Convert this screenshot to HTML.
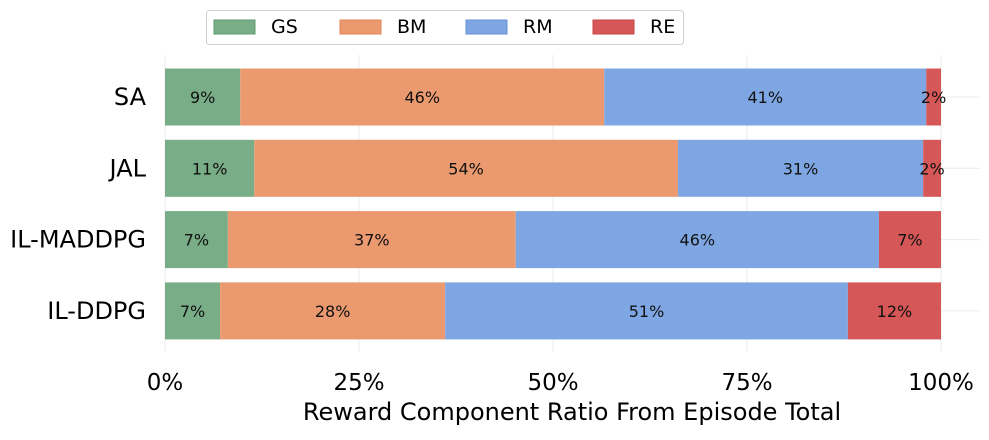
<!DOCTYPE html>
<html><head><meta charset="utf-8"><style>
body{margin:0;background:#fff;font-family:"Liberation Sans","DejaVu Sans",sans-serif;}
svg text{font-family:"DejaVu Sans","Liberation Sans",sans-serif;}
</style></head><body>
<svg id="chart" width="989" height="435" xmlns="http://www.w3.org/2000/svg"></svg>
<script>
const categories = ["SA","JAL","IL-MADDPG","IL-DDPG"];
const seriesNames = ["GS","BM","RM","RE"];
const gsValues = [9.7, 11.5, 8.1, 7.1];
const bmValues = [46.9, 54.6, 37.1, 29.0];
const rmValues = [41.5, 31.6, 46.8, 51.9];
const reValues = [1.9, 2.3, 8.0, 12.0];
const gsLabels = ["9%","11%","7%","7%"];
const bmLabels = ["46%","54%","37%","28%"];
const rmLabels = ["41%","31%","46%","51%"];
const reLabels = ["2%","2%","7%","12%"];
const tickValues = [0,25,50,75,100];
const tickLabels = ["0%","25%","50%","75%","100%"];

const colors = ["#78ad87","#ea9a6e","#7ea6e3","#d55757"];
const strokes = ["#5f9a70","#e08656","#6690d8","#c84444"];
const series = [gsValues,bmValues,rmValues,reValues];
const labels = [gsLabels,bmLabels,rmLabels,reLabels];
const svg = document.getElementById('chart');
const NS = "http://www.w3.org/2000/svg";
const x0 = 165, x1 = 941;
const xScale = v => x0 + (x1 - x0) * v / 100;
const yCenter = i => 97 + i * 71.3;
const barH = 57;
function mk(tag, attrs, text){const e=document.createElementNS(NS,tag);for(const k in attrs)e.setAttribute(k,attrs[k]);if(text!==undefined)e.textContent=text;svg.appendChild(e);return e;}

tickValues.forEach((t,i)=>{
  const g = mk('line',{x1:xScale(t),x2:xScale(t),y1:55,y2:352,stroke:'#ebebeb','stroke-width':1});
  
  
  const tl = mk('text',{x:xScale(t),y:390,'text-anchor':'middle','font-size':23,fill:'#000'},tickLabels[i]);
  
  
});
categories.forEach((c,i)=>{
  const g = mk('line',{x1:x0,x2:980,y1:yCenter(i),y2:yCenter(i),stroke:'#ebebeb','stroke-width':1});
  
  
});
categories.forEach((c,i)=>{
  let acc = 0;
  series.forEach((s,j)=>{
    const xa = xScale(acc), xb = xScale(acc + s[i]);
    const r = mk('rect',{x:xa,y:yCenter(i)-barH/2,width:xb-xa,height:barH,fill:colors[j]});
    
    
    const t = mk('text',{x:(xa+xb)/2,y:yCenter(i)+6,'text-anchor':'middle','font-size':16,fill:'#111'},labels[j][i]);
    
    
    acc += s[i];
  });
  const yl = mk('text',{x:146,y:yCenter(i)+8,'text-anchor':'end','font-size':24,fill:'#000'},c);
  
  
});
const xt = mk('text',{x:572,y:420,'text-anchor':'middle','font-size':24,fill:'#000'},'Reward Component Ratio From Episode Total');


const lb = mk('rect',{x:206.5,y:10.5,width:477,height:34,rx:3,fill:'#fff',stroke:'#d0d0d0'});


const legX = [214,340,466,593];
seriesNames.forEach((n,j)=>{
  const r = mk('rect',{x:legX[j],y:20,width:41,height:14,fill:colors[j],stroke:strokes[j]});
  
  
  const t = mk('text',{x:legX[j]+57,y:33,'font-size':19,fill:'#000'},n);
  
  
});
</script>
</body></html>
